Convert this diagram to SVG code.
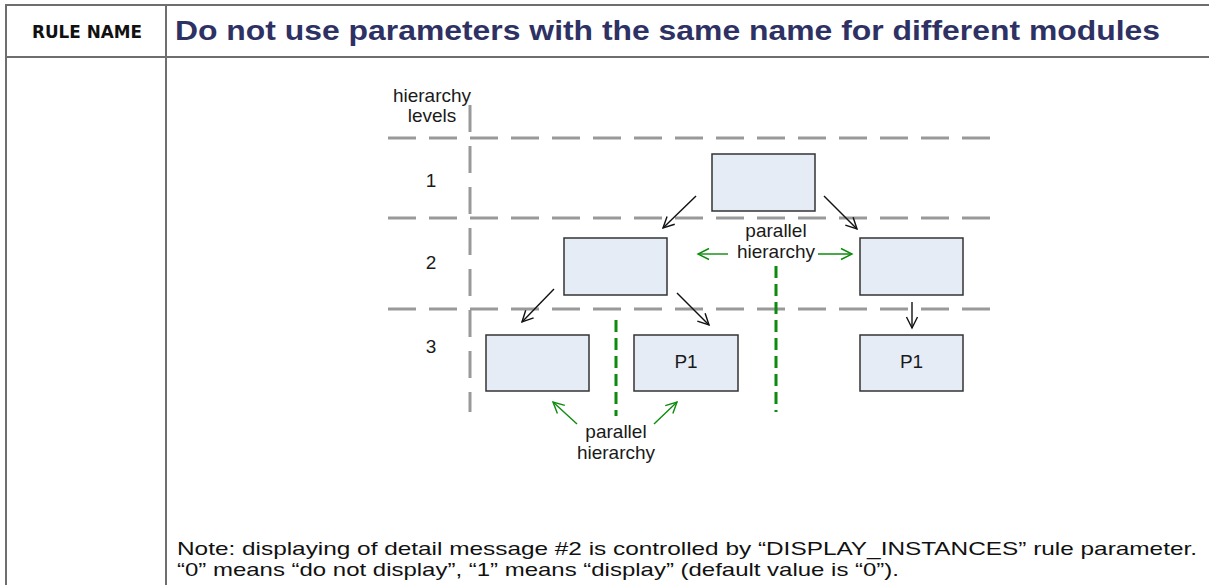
<svg xmlns="http://www.w3.org/2000/svg" width="1209" height="585" viewBox="0 0 1209 585">
  <style>
    .grid { stroke: #6e6e6e; stroke-width: 2; fill: none; }
    .hdr { font-family: "DejaVu Sans", sans-serif; font-weight: bold; font-size: 18px; fill: #111; }
    .title { font-family: "Liberation Sans", Arial, sans-serif; font-weight: bold; font-size: 27px; fill: #2e3163; }
    .lbl { font-family: "Liberation Sans", Arial, sans-serif; font-size: 19px; fill: #1a1a1a; text-anchor: middle; }
    .note { font-family: "Liberation Sans", Arial, sans-serif; font-size: 19px; fill: #111; }
    .level { stroke: #999; stroke-width: 3; fill: none; stroke-dasharray: 28 13; }
    .vlevel { stroke: #999; stroke-width: 3; fill: none; stroke-dasharray: 27 14; }
    .par { stroke: #0e8a0e; stroke-width: 3; fill: none; stroke-dasharray: 12 6; }
    .box { fill: #e5ecf6; stroke: #333; stroke-width: 1.5; }
    .arr { stroke: #111; stroke-width: 1.4; fill: none; marker-end: url(#head); }
    .garr { stroke: #0e8a0e; stroke-width: 1.4; fill: none; marker-end: url(#ghead); }
  </style>
  <defs>
    <marker id="head" markerUnits="userSpaceOnUse" markerWidth="14" markerHeight="14" refX="12" refY="7" orient="auto">
      <path d="M1,1.5 L12,7 L1,12.5" fill="none" stroke="#111" stroke-width="1.4"/>
    </marker>
    <marker id="ghead" markerUnits="userSpaceOnUse" markerWidth="14" markerHeight="14" refX="12" refY="7" orient="auto">
      <path d="M1,1.5 L12,7 L1,12.5" fill="none" stroke="#0e8a0e" stroke-width="1.4"/>
    </marker>
  </defs>

  <rect width="1209" height="585" fill="#fff"/>

  <!-- table frame -->
  <g id="table">
    <line class="grid" x1="6" y1="5" x2="1209" y2="5"/>
    <line class="grid" x1="6" y1="57" x2="1209" y2="57"/>
    <line class="grid" x1="6" y1="4" x2="6" y2="585"/>
    <line class="grid" x1="166" y1="5" x2="166" y2="585"/>
    <text class="hdr" x="32" y="38" textLength="110" lengthAdjust="spacingAndGlyphs">RULE NAME</text>
    <text class="title" x="175" y="40" textLength="985" lengthAdjust="spacingAndGlyphs">Do not use parameters with the same name for different modules</text>
  </g>

  <!-- hierarchy level guides -->
  <g id="levels">
    <line class="level" x1="388" y1="138" x2="990" y2="138"/>
    <line class="level" x1="388" y1="218" x2="990" y2="218"/>
    <line class="level" x1="388" y1="309" x2="990" y2="309"/>
    <line class="vlevel" x1="470" y1="105" x2="470" y2="412"/>
    <text class="lbl" x="432" y="102">hierarchy</text>
    <text class="lbl" x="432" y="122">levels</text>
    <text class="lbl" x="431" y="187">1</text>
    <text class="lbl" x="431" y="269">2</text>
    <text class="lbl" x="431" y="353">3</text>
  </g>

  <!-- parallel hierarchy separators -->
  <g id="separators">
    <line class="par" x1="776" y1="266" x2="776" y2="412"/>
    <line class="par" x1="616" y1="320" x2="616" y2="416"/>
    <text class="lbl" x="776" y="237">parallel</text>
    <text class="lbl" x="776" y="258">hierarchy</text>
    <text class="lbl" x="616" y="438">parallel</text>
    <text class="lbl" x="616" y="459">hierarchy</text>
  </g>

  <!-- modules -->
  <g id="top">
    <rect class="box" x="712" y="154" width="103" height="57"/>
  </g>
  <g id="mid-left">
    <rect class="box" x="564" y="238" width="103" height="57"/>
  </g>
  <g id="mid-right">
    <rect class="box" x="860" y="238" width="103" height="57"/>
  </g>
  <g id="leaf-a">
    <rect class="box" x="486" y="335" width="103" height="56"/>
  </g>
  <g id="leaf-b">
    <rect class="box" x="634" y="335" width="104" height="56"/>
    <text class="lbl" x="686" y="368">P1</text>
  </g>
  <g id="leaf-c">
    <rect class="box" x="860" y="335" width="103" height="56"/>
    <text class="lbl" x="911.5" y="368">P1</text>
  </g>

  <!-- connectors -->
  <g id="connectors">
    <line class="arr" x1="696" y1="196" x2="663" y2="228"/>
    <line class="arr" x1="824" y1="196" x2="857" y2="229"/>
    <line class="arr" x1="554" y1="289" x2="522" y2="322"/>
    <line class="arr" x1="677" y1="293" x2="709" y2="325"/>
    <line class="arr" x1="912" y1="302" x2="912" y2="328"/>
    <line class="garr" x1="728" y1="254" x2="698" y2="254"/>
    <line class="garr" x1="818" y1="254" x2="852" y2="254"/>
    <line class="garr" x1="577" y1="424" x2="553" y2="402"/>
    <line class="garr" x1="654" y1="424" x2="677" y2="402"/>
  </g>

  <!-- note -->
  <g id="note">
    <text class="note" x="177" y="555" textLength="1020" lengthAdjust="spacingAndGlyphs">Note: displaying of detail message #2 is controlled by “DISPLAY_INSTANCES” rule parameter.</text>
    <text class="note" x="177" y="576" textLength="722" lengthAdjust="spacingAndGlyphs">“0” means “do not display”, “1” means “display” (default value is “0”).</text>
  </g>
</svg>
